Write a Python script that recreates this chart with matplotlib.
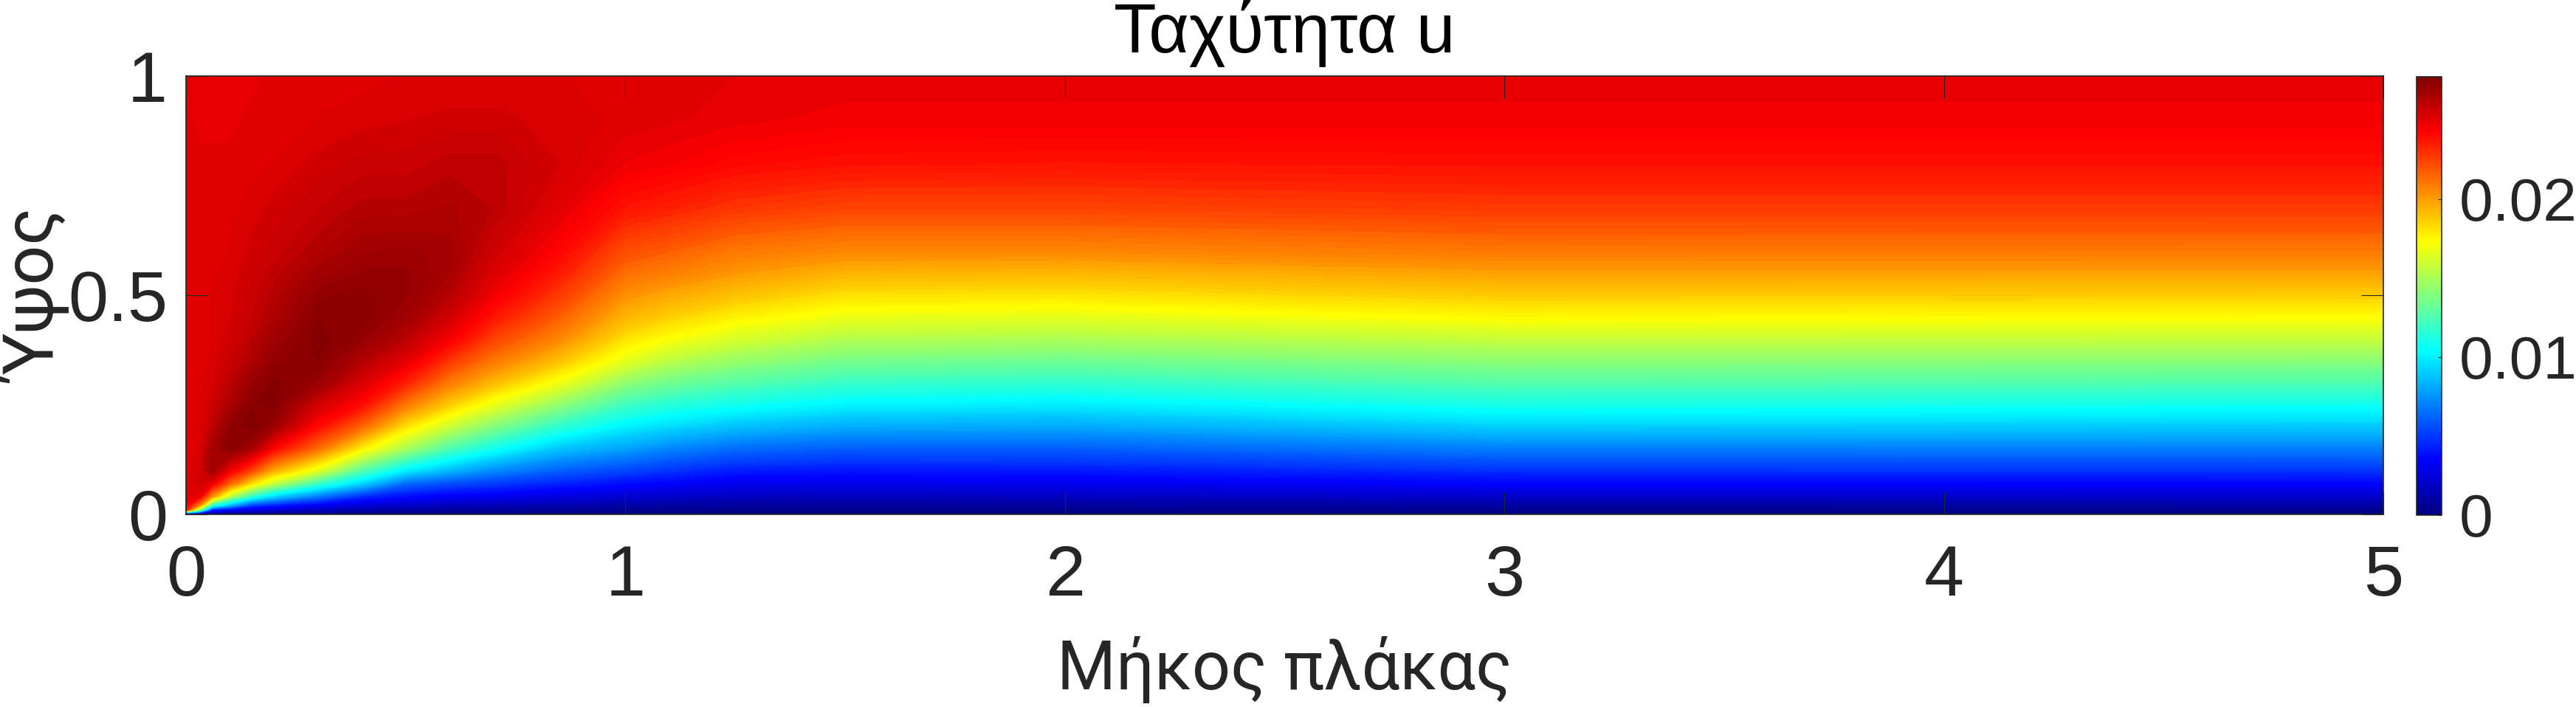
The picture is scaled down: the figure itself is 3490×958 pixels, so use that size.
import numpy as np
import matplotlib
matplotlib.use("Agg")
import matplotlib.pyplot as plt
from matplotlib.cm import ScalarMappable
from matplotlib.colors import LinearSegmentedColormap, Normalize

ANCHO=3491
ALTO=958
GRIS="#262626"

# stations, u values are u*1000
x_st=[0,0.03,0.06,0.1,0.15,0.2,0.3,0.4,0.5,0.6,0.7,0.85,1,1.1,1.25,1.5,2,3,5]
y_st=[0,0.01,0.02,0.04,0.07,0.1,0.15,0.2,0.25,0.3,0.35,0.4,0.45,0.5,0.55,0.6,0.7,0.8,0.9,1]

u_x000=[0,24.0,24.6,25.0,25.1,25.1,25.1,25.1,25.1,25.1,25.1,25.1,25.1,25.1,25.1,25.1,25.1,25.1,25.0,25.0]
u_x003=[0,14.3,20.5,24.7,25.5,25.4,25.2,25.1,25.1,25.1,25.0,25.0,25.0,25.0,25.0,25.0,25.0,25.0,24.9,24.9]
u_x006=[0,4.1,11.2,20.0,24.7,26.9,26.7,26.0,25.65,25.4,25.3,25.2,25.2,25.2,25.1,25.1,25.0,25.0,24.9,24.9]
u_x010=[0,3.2,8.1,15.2,21.5,24.6,27.5,27.3,26.5,26.1,25.75,25.5,25.4,25.3,25.3,25.2,25.1,25.0,24.9,24.9]
u_x015=[0,2.5,4.9,11.4,18.1,22.4,26.6,27.7,27.5,27.0,26.4,26.1,25.85,25.75,25.6,25.5,25.3,25.1,25.0,24.9]
u_x020=[0,2.1,4.1,9.1,15.6,19.6,24.2,26.9,27.6,27.6,27.2,26.8,26.4,26.2,26.0,25.75,25.5,25.2,25.0,25.0]
u_x030=[0,1.6,3.1,6.6,12.0,16.6,21.3,24.0,25.5,27.0,27.5,27.7,27.5,27.2,26.7,26.3,25.85,25.5,25.2,25.0]
u_x040=[0,1.15,2.3,4.5,9.2,12.7,17.7,21.5,24.0,25.3,26.3,27.1,27.5,27.4,27.1,26.8,26.2,25.75,25.3,25.1]
u_x050=[0,0.95,1.85,3.65,6.3,10.0,14.9,18.1,21.0,23.4,25.0,26.1,26.8,27.1,27.1,26.9,26.2,25.75,25.4,25.2]
u_x060=[0,0.8,1.6,3.2,5.5,8.45,12.5,15.8,18.7,20.9,22.8,24.5,25.5,26.2,26.6,26.7,26.4,26.0,25.5,25.2]
u_x070=[0,0.75,1.5,3.0,5.0,7.25,10.8,13.9,16.7,19.2,21.0,22.5,23.7,24.6,25.2,25.6,26.1,26.0,25.5,25.2]
u_x085=[0,0.65,1.3,2.55,4.35,6.05,8.8,11.6,14.3,16.9,19.0,20.55,21.7,22.7,23.55,24.2,25.0,25.4,25.3,25.2]
u_x100=[0,0.5,1.05,2.2,3.75,5.35,7.85,10.0,12.1,14.3,16.6,18.1,19.35,20.3,21.3,22.15,23.75,24.7,25.1,25.1]
u_x110=[0,0.47,0.95,1.95,3.4,4.85,7.1,9.4,11.4,13.4,15.4,17.2,18.6,19.7,20.8,21.7,23.4,24.5,25.0,25.05]
u_x125=[0,0.45,0.85,1.7,3.0,4.25,6.4,8.7,10.8,12.7,14.5,16.2,17.7,19.0,20.1,21.0,22.85,24.1,24.8,24.95]
u_x150=[0,0.4,0.8,1.65,2.9,4.05,6.0,8.1,10.1,11.9,13.6,15.25,16.8,18.15,19.4,20.55,22.45,23.85,24.6,24.9]
u_x200=[0,0.45,0.85,1.7,3.0,4.15,6.0,8.0,9.9,11.7,13.4,15.05,16.6,18.05,19.3,20.55,22.45,23.75,24.6,24.9]
u_x300=[0,0.5,0.95,1.95,3.45,4.75,6.9,9.1,11.0,12.65,14.2,15.75,17.45,18.75,19.9,21.0,22.75,23.85,24.6,24.9]
u_x500=[0,0.5,1.0,2.0,3.5,4.85,6.9,8.9,10.75,12.5,14.1,15.75,17.3,18.65,19.9,20.95,22.75,23.85,24.6,24.9]

u_vmax=27.75

xticks=[0,1,2,3,4,5]
yticks=[0,0.5,1]
yticklabels=["0","0.5","1"]
cticks=[0,0.01,0.02]
cticklabels=["0","0.01","0.02"]

titulo="Ταχύτητα u"
xlabel="Μήκος πλάκας"
ylabel="Ύψος"

u=np.column_stack([u_x000,u_x003,u_x006,u_x010,u_x015,u_x020,u_x030,u_x040,u_x050,u_x060,
                   u_x070,u_x085,u_x100,u_x110,u_x125,u_x150,u_x200,u_x300,u_x500])/1000

# matlab jet, matplotlib's has the stops slightly moved
jet=LinearSegmentedColormap.from_list("jet_matlab",[
    (0,(0,0,0.5)),(0.125,(0,0,1)),(0.375,(0,1,1)),(0.625,(1,1,0)),(0.875,(1,0,0)),(1,(0.5,0,0))],N=256)
norm=Normalize(0,u_vmax/1000)

plt.rcParams["font.family"]=["Liberation Sans","DejaVu Sans"]
fig=plt.figure(figsize=(ANCHO/100,ALTO/100),dpi=100)

def caja(x0,y0,x1,y1):
    return [x0/ANCHO,1-y1/ALTO,(x1-x0)/ANCHO,(y1-y0)/ALTO]

ax=fig.add_axes(caja(252,103,3229,697))
ax.contourf(x_st,y_st,u,levels=np.linspace(0,u_vmax/1000,120),cmap=jet,norm=norm,antialiased=False)
ax.set_xlim(0,5)
ax.set_ylim(0,1)
ax.set_xticks(xticks)
ax.set_yticks(yticks)
ax.set_yticklabels(yticklabels)
ax.tick_params(axis="x",direction="in",top=True,length=21.6,width=0.8,color=GRIS,labelcolor=GRIS,labelsize=70,pad=29)
ax.tick_params(axis="y",direction="in",right=True,length=21.6,width=0.8,color=GRIS,labelcolor=GRIS,labelsize=70,pad=18)
for s in ax.spines.values():
    s.set_linewidth(1.2)
    s.set_color(GRIS)

ax.set_title(titulo,fontsize=68,color="black",pad=23)
ax.set_xlabel(xlabel,fontsize=66,color=GRIS,family=["Roboto","DejaVu Sans"])
ax.xaxis.set_label_coords(0.5,-0.278)
ax.set_ylabel(ylabel,fontsize=68,color=GRIS,family=["Roboto","DejaVu Sans"])
ax.yaxis.set_label_coords(-0.0511,0.495)

cax=fig.add_axes(caja(3274,104,3308,698))
cb=fig.colorbar(ScalarMappable(norm=norm,cmap=jet),cax=cax)
cb.set_ticks(cticks)
cb.set_ticklabels(cticklabels)
cax.tick_params(axis="y",direction="in",length=3.6,width=0.8,color=GRIS,labelcolor=GRIS,labelsize=59,pad=17)
cb.outline.set_linewidth(1.2)
cb.outline.set_edgecolor(GRIS)

fig.savefig("out.png",dpi=100)
